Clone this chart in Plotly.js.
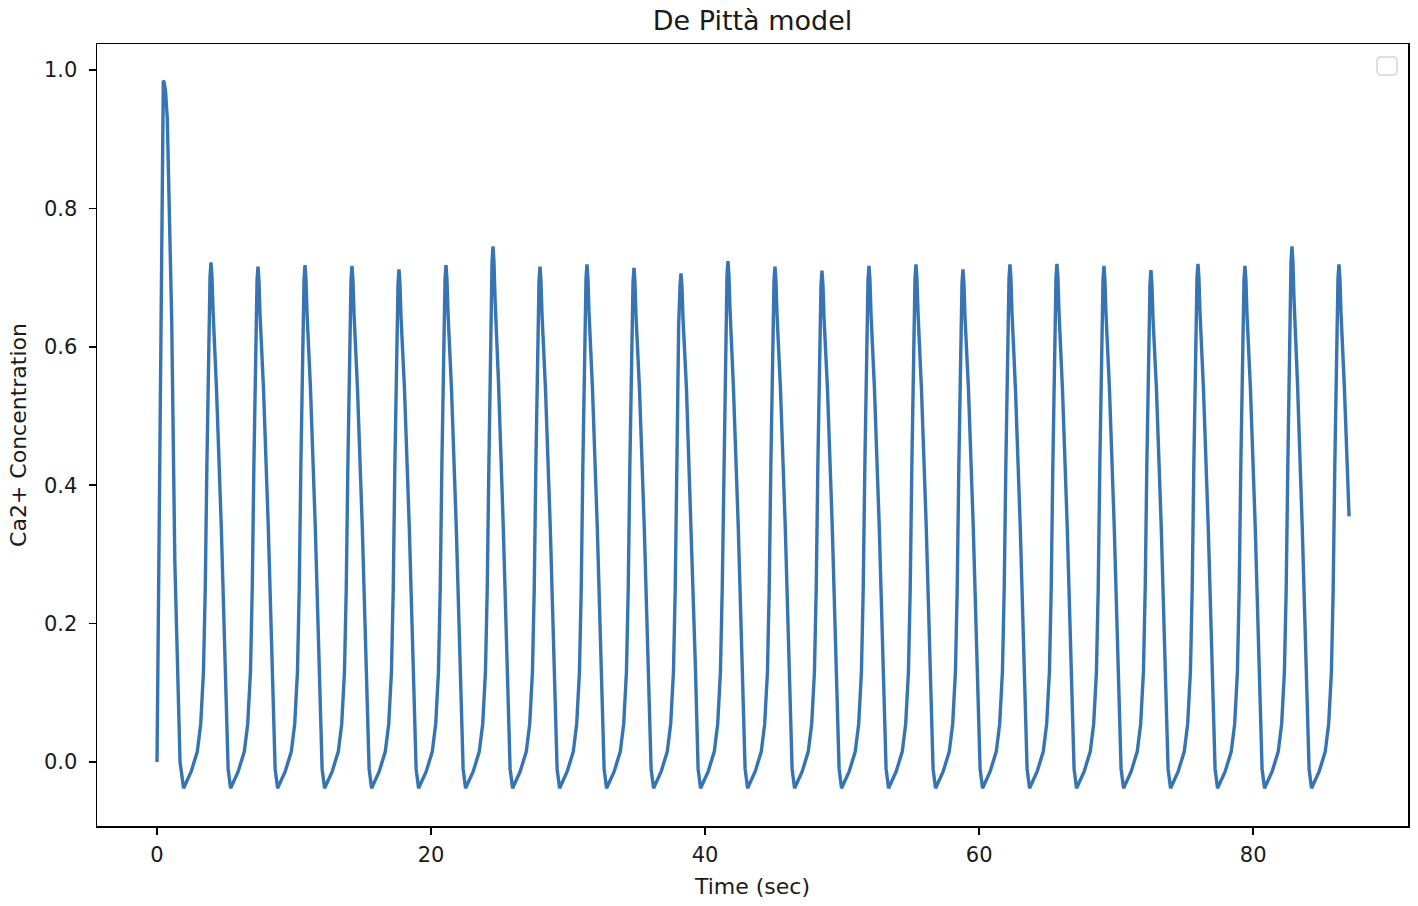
<!DOCTYPE html>
<html>
<head>
<meta charset="utf-8">
<script src="https://cdn.plot.ly/plotly-3.0.1.min.js"></script>
<style>
  html, body { margin: 0; padding: 0; background: #fff; }
  #chart { width: 1418px; height: 906px; }
</style>
</head>
<body>
<div id="chart"></div>
<script>
// time (sec), one row per cycle (rise .. peak .. fall to minimum)
const timeSec = [
  0.00, 0.27, 0.40, 0.46, 0.52, 0.62, 0.75, 1.07, 1.30, 1.55, 1.68, 1.94,
  2.49, 2.94, 3.19, 3.39, 3.52, 3.64, 3.77, 3.87, 3.94, 4.01, 4.09, 4.34, 4.69, 4.99, 5.19, 5.37,
  5.92, 6.37, 6.62, 6.82, 6.95, 7.07, 7.20, 7.30, 7.37, 7.44, 7.52, 7.77, 8.12, 8.42, 8.62, 8.80,
  9.35, 9.80, 10.05, 10.25, 10.38, 10.50, 10.63, 10.73, 10.80, 10.87, 10.95, 11.20, 11.55, 11.85, 12.05, 12.23,
  12.78, 13.23, 13.48, 13.68, 13.81, 13.93, 14.06, 14.16, 14.23, 14.30, 14.38, 14.63, 14.98, 15.28, 15.48, 15.66,
  16.21, 16.66, 16.91, 17.11, 17.24, 17.36, 17.49, 17.59, 17.66, 17.73, 17.81, 18.06, 18.41, 18.71, 18.91, 19.09,
  19.64, 20.09, 20.34, 20.54, 20.67, 20.79, 20.92, 21.02, 21.09, 21.16, 21.24, 21.49, 21.84, 22.14, 22.34, 22.52,
  23.07, 23.52, 23.77, 23.97, 24.10, 24.22, 24.35, 24.45, 24.52, 24.59, 24.67, 24.92, 25.27, 25.57, 25.77, 25.95,
  26.50, 26.95, 27.20, 27.40, 27.53, 27.65, 27.78, 27.88, 27.95, 28.02, 28.10, 28.35, 28.70, 29.00, 29.20, 29.38,
  29.93, 30.38, 30.63, 30.83, 30.96, 31.08, 31.21, 31.31, 31.38, 31.45, 31.53, 31.78, 32.13, 32.43, 32.63, 32.81,
  33.36, 33.81, 34.06, 34.26, 34.39, 34.51, 34.64, 34.74, 34.81, 34.88, 34.96, 35.21, 35.56, 35.86, 36.06, 36.24,
  36.79, 37.24, 37.49, 37.69, 37.82, 37.94, 38.07, 38.17, 38.24, 38.31, 38.39, 38.64, 38.99, 39.29, 39.49, 39.67,
  40.22, 40.67, 40.92, 41.12, 41.25, 41.37, 41.50, 41.60, 41.67, 41.74, 41.82, 42.07, 42.42, 42.72, 42.92, 43.10,
  43.65, 44.10, 44.35, 44.55, 44.68, 44.80, 44.93, 45.03, 45.10, 45.17, 45.25, 45.50, 45.85, 46.15, 46.35, 46.53,
  47.08, 47.53, 47.78, 47.98, 48.11, 48.23, 48.36, 48.46, 48.53, 48.60, 48.68, 48.93, 49.28, 49.58, 49.78, 49.96,
  50.51, 50.96, 51.21, 51.41, 51.54, 51.66, 51.79, 51.89, 51.96, 52.03, 52.11, 52.36, 52.71, 53.01, 53.21, 53.39,
  53.94, 54.39, 54.64, 54.84, 54.97, 55.09, 55.22, 55.32, 55.39, 55.46, 55.54, 55.79, 56.14, 56.44, 56.64, 56.82,
  57.37, 57.82, 58.07, 58.27, 58.40, 58.52, 58.65, 58.75, 58.82, 58.89, 58.97, 59.22, 59.57, 59.87, 60.07, 60.25,
  60.80, 61.25, 61.50, 61.70, 61.83, 61.95, 62.08, 62.18, 62.25, 62.32, 62.40, 62.65, 63.00, 63.30, 63.50, 63.68,
  64.23, 64.68, 64.93, 65.13, 65.26, 65.38, 65.51, 65.61, 65.68, 65.75, 65.83, 66.08, 66.43, 66.73, 66.93, 67.11,
  67.66, 68.11, 68.36, 68.56, 68.69, 68.81, 68.94, 69.04, 69.11, 69.18, 69.26, 69.51, 69.86, 70.16, 70.36, 70.54,
  71.09, 71.54, 71.79, 71.99, 72.12, 72.24, 72.37, 72.47, 72.54, 72.61, 72.69, 72.94, 73.29, 73.59, 73.79, 73.97,
  74.52, 74.97, 75.22, 75.42, 75.55, 75.67, 75.80, 75.90, 75.97, 76.04, 76.12, 76.37, 76.72, 77.02, 77.22, 77.40,
  77.95, 78.40, 78.65, 78.85, 78.98, 79.10, 79.23, 79.33, 79.40, 79.47, 79.55, 79.80, 80.15, 80.45, 80.65, 80.83,
  81.38, 81.83, 82.08, 82.28, 82.41, 82.53, 82.66, 82.76, 82.83, 82.90, 82.98, 83.23, 83.58, 83.88, 84.08, 84.26,
  84.81, 85.26, 85.51, 85.71, 85.84, 85.96, 86.09, 86.19, 86.26, 86.33, 86.41, 86.66, 87.00
];

// Ca2+ concentration at those times
const calcium = [
  0.000, 0.640, 0.960, 0.985, 0.982, 0.970, 0.930, 0.640, 0.290, 0.100, 0.000, -0.038,
  -0.014, 0.015, 0.055, 0.130, 0.250, 0.430, 0.630, 0.702, 0.722, 0.702, 0.652, 0.540, 0.340, 0.140, -0.010, -0.038,
  -0.014, 0.015, 0.055, 0.130, 0.250, 0.430, 0.630, 0.696, 0.716, 0.696, 0.646, 0.540, 0.340, 0.140, -0.010, -0.038,
  -0.014, 0.015, 0.055, 0.130, 0.250, 0.430, 0.630, 0.698, 0.718, 0.698, 0.648, 0.540, 0.340, 0.140, -0.010, -0.038,
  -0.014, 0.015, 0.055, 0.130, 0.250, 0.430, 0.630, 0.697, 0.717, 0.697, 0.647, 0.540, 0.340, 0.140, -0.010, -0.038,
  -0.014, 0.015, 0.055, 0.130, 0.250, 0.430, 0.630, 0.692, 0.712, 0.692, 0.642, 0.540, 0.340, 0.140, -0.010, -0.038,
  -0.014, 0.015, 0.055, 0.130, 0.250, 0.430, 0.630, 0.698, 0.718, 0.698, 0.648, 0.540, 0.340, 0.140, -0.010, -0.038,
  -0.014, 0.015, 0.055, 0.130, 0.250, 0.430, 0.640, 0.722, 0.745, 0.724, 0.670, 0.550, 0.340, 0.140, -0.010, -0.038,
  -0.014, 0.015, 0.055, 0.130, 0.250, 0.430, 0.630, 0.696, 0.716, 0.696, 0.646, 0.540, 0.340, 0.140, -0.010, -0.038,
  -0.014, 0.015, 0.055, 0.130, 0.250, 0.430, 0.630, 0.699, 0.719, 0.699, 0.649, 0.540, 0.340, 0.140, -0.010, -0.038,
  -0.014, 0.015, 0.055, 0.130, 0.250, 0.430, 0.630, 0.694, 0.714, 0.694, 0.644, 0.540, 0.340, 0.140, -0.010, -0.038,
  -0.014, 0.015, 0.055, 0.130, 0.250, 0.430, 0.630, 0.688, 0.706, 0.688, 0.640, 0.540, 0.340, 0.140, -0.010, -0.038,
  -0.014, 0.015, 0.055, 0.130, 0.250, 0.430, 0.630, 0.704, 0.724, 0.704, 0.654, 0.540, 0.340, 0.140, -0.010, -0.038,
  -0.014, 0.015, 0.055, 0.130, 0.250, 0.430, 0.630, 0.696, 0.716, 0.696, 0.646, 0.540, 0.340, 0.140, -0.010, -0.038,
  -0.014, 0.015, 0.055, 0.130, 0.250, 0.430, 0.630, 0.690, 0.710, 0.690, 0.642, 0.540, 0.340, 0.140, -0.010, -0.038,
  -0.014, 0.015, 0.055, 0.130, 0.250, 0.430, 0.630, 0.697, 0.717, 0.697, 0.647, 0.540, 0.340, 0.140, -0.010, -0.038,
  -0.014, 0.015, 0.055, 0.130, 0.250, 0.430, 0.630, 0.699, 0.719, 0.699, 0.649, 0.540, 0.340, 0.140, -0.010, -0.038,
  -0.014, 0.015, 0.055, 0.130, 0.250, 0.430, 0.630, 0.692, 0.712, 0.692, 0.642, 0.540, 0.340, 0.140, -0.010, -0.038,
  -0.014, 0.015, 0.055, 0.130, 0.250, 0.430, 0.630, 0.699, 0.719, 0.699, 0.649, 0.540, 0.340, 0.140, -0.010, -0.038,
  -0.014, 0.015, 0.055, 0.130, 0.250, 0.430, 0.630, 0.700, 0.720, 0.700, 0.650, 0.540, 0.340, 0.140, -0.010, -0.038,
  -0.014, 0.015, 0.055, 0.130, 0.250, 0.430, 0.630, 0.697, 0.717, 0.697, 0.647, 0.540, 0.340, 0.140, -0.010, -0.038,
  -0.014, 0.015, 0.055, 0.130, 0.250, 0.430, 0.630, 0.691, 0.711, 0.691, 0.641, 0.540, 0.340, 0.140, -0.010, -0.038,
  -0.014, 0.015, 0.055, 0.130, 0.250, 0.430, 0.630, 0.700, 0.720, 0.700, 0.650, 0.540, 0.340, 0.140, -0.010, -0.038,
  -0.014, 0.015, 0.055, 0.130, 0.250, 0.430, 0.630, 0.697, 0.717, 0.697, 0.647, 0.540, 0.340, 0.140, -0.010, -0.038,
  -0.014, 0.015, 0.055, 0.130, 0.250, 0.430, 0.640, 0.722, 0.745, 0.724, 0.670, 0.550, 0.340, 0.140, -0.010, -0.038,
  -0.014, 0.015, 0.055, 0.130, 0.250, 0.430, 0.630, 0.699, 0.719, 0.699, 0.649, 0.540, 0.355
];

const xTicks = [0, 20, 40, 60, 80];
const yTicks = [0.0, 0.2, 0.4, 0.6, 0.8, 1.0];

const font = "DejaVu Sans, Liberation Sans, sans-serif";

const draw = () => {
  const data = [{
    type: "scatter",
    mode: "lines",
    x: timeSec,
    y: calcium,
    line: {color: "#3674b3", width: 3.4},
    showlegend: false,
    hoverinfo: "x+y"
  }];

  const axisCommon = {
    showline: true,
    mirror: true,
    linecolor: "#000",
    linewidth: 1.5,
    ticks: "outside",
    ticklen: 7,
    tickwidth: 1.5,
    tickcolor: "#000",
    showgrid: false,
    zeroline: false,
    tickfont: {family: font, size: 21, color: "#1a1a1a"}
  };

  const layout = {
    width: 1418,
    height: 906,
    margin: {l: 97, r: 10, t: 44, b: 80},
    paper_bgcolor: "#fff",
    plot_bgcolor: "#fff",
    font: {family: font, color: "#000"},
    title: {
      text: "De Pittà model",
      font: {family: font, size: 27, color: "#1a1a1a"},
      x: 0.5,
      xref: "paper",
      y: 0.977,
      yanchor: "middle"
    },
    xaxis: Object.assign({}, axisCommon, {
      range: [-4.38, 91.3],
      tickvals: xTicks,
      ticktext: xTicks.map(String),
      ticklabelstandoff: 2,
      title: {text: "Time (sec)", font: {family: font, size: 22, color: "#1a1a1a"}, standoff: 13}
    }),
    yaxis: Object.assign({}, axisCommon, {
      range: [-0.0925, 1.0376],
      tickvals: yTicks,
      ticktext: yTicks.map(v => v.toFixed(1)),
      ticklabelstandoff: 7,
      title: {text: "Ca2+ Concentration", font: {family: font, size: 22, color: "#1a1a1a"}, standoff: 11}
    }),
    shapes: [{
      // the empty legend frame in the top right corner
      type: "path",
      xref: "paper",
      yref: "paper",
      path: "M 0.9794,0.9834 L 0.9886,0.9834 Q 0.9916,0.9834 0.9916,0.9783 L 0.9916,0.9655 Q 0.9916,0.9604 0.9886,0.9604 L 0.9794,0.9604 Q 0.9764,0.9604 0.9764,0.9655 L 0.9764,0.9783 Q 0.9764,0.9834 0.9794,0.9834 Z",
      line: {color: "#d6d6d6", width: 1.5},
      fillcolor: "rgba(255,255,255,0.8)"
    }]
  };

  Plotly.newPlot("chart", data, layout, {displayModeBar: false, staticPlot: true});
};

draw();
</script>
</body>
</html>
